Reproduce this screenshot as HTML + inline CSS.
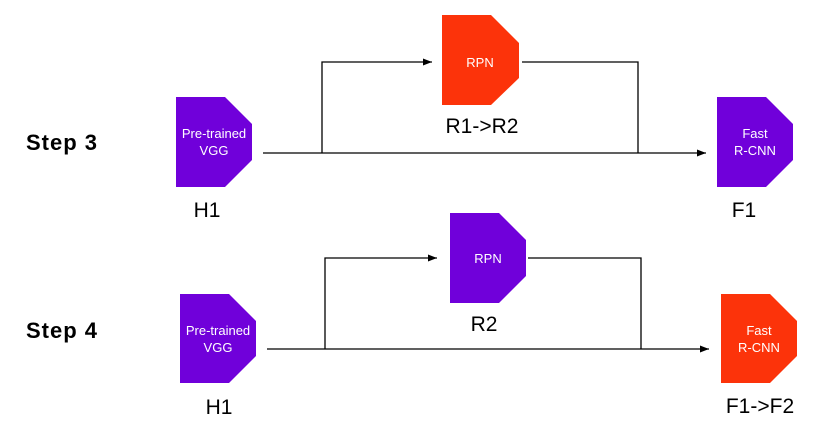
<!DOCTYPE html>
<html><head><meta charset="utf-8"><style>
html,body{margin:0;padding:0;background:#fff;}
svg{display:block;}
text{font-family:"Liberation Sans","DejaVu Sans",sans-serif;}
</style></head><body>
<svg width="822" height="436" viewBox="0 0 822 436" xmlns="http://www.w3.org/2000/svg">
<defs>
<marker id="a" markerWidth="9" markerHeight="8" refX="9" refY="4" orient="auto" markerUnits="userSpaceOnUse">
<path d="M0,0.5 L9,4 L0,7.5 Z" fill="#000"/></marker>
</defs>
<g font-size="22" font-weight="bold" fill="#000" letter-spacing="1">
<text x="26" y="150">Step 3</text>
<text x="26" y="338">Step 4</text>
</g>
<g>
<polygon points="176,97 225,97 252,124 252,160 225,187 176,187" fill="#7000DA"/>
<polygon points="442,15 491,15 519,43 519,78 491,105 442,105" fill="#FC330A"/>
<polygon points="717,97 766,97 793,124 793,160 766,187 717,187" fill="#7000DA"/>
<polygon points="180,294 229,294 256,321 256,356 229,383 180,383" fill="#7000DA"/>
<polygon points="450,213 499,213 526,240 526,276 499,303 450,303" fill="#7000DA"/>
<polygon points="721,294 770,294 797,321 797,356 770,383 721,383" fill="#FC330A"/>
</g>
<g fill="#fff" font-size="13" text-anchor="middle">
<text x="214" y="138">Pre-trained</text><text x="214" y="155">VGG</text>
<text x="480" y="67">RPN</text>
<text x="755" y="138">Fast</text><text x="755" y="155">R-CNN</text>
<text x="218" y="335">Pre-trained</text><text x="218" y="352">VGG</text>
<text x="488" y="263">RPN</text>
<text x="759" y="335">Fast</text><text x="759" y="352">R-CNN</text>
</g>
<g fill="#000" font-size="21" text-anchor="middle">
<text x="207" y="217">H1</text>
<text x="482" y="133">R1-&gt;R2</text>
<text x="744" y="217">F1</text>
<text x="219" y="414">H1</text>
<text x="484" y="331">R2</text>
<text x="760" y="413">F1-&gt;F2</text>
</g>
<g stroke="#000" stroke-width="1.3" fill="none">
<line x1="263" y1="153" x2="706" y2="153" marker-end="url(#a)"/>
<polyline points="322,153 322,62 432,62" marker-end="url(#a)"/>
<polyline points="522,62 638,62 638,153"/>
<line x1="267" y1="349" x2="709" y2="349" marker-end="url(#a)"/>
<polyline points="325,349 325,258 437,258" marker-end="url(#a)"/>
<polyline points="528,258 641,258 641,349"/>
</g>
</svg>
</body></html>
